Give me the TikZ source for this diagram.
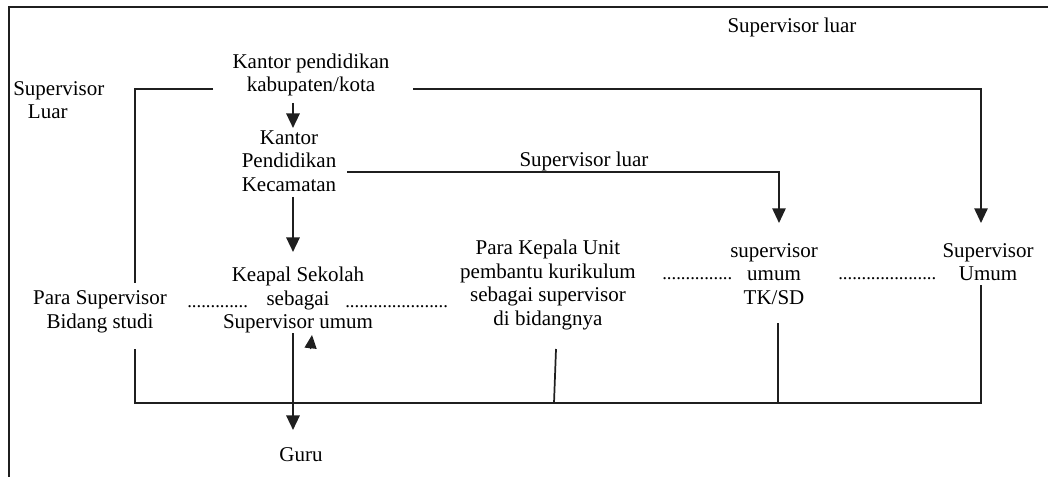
\documentclass[tikz,border=0pt]{standalone}
\usepackage{fontspec}
\setmainfont{Liberation Serif}
\usetikzlibrary{arrows.meta,calc}
\tikzset{
  lbl/.style={inner sep=0pt, align=center, text=black, font=\fontsize{15.75pt}{17.6pt}\selectfont},
  dotrow/.style={inner sep=0pt, anchor=base west, text=black, font=\fontsize{14pt}{14pt}\selectfont},
  conn/.style={draw=black!88, line width=1.3pt},
  arr/.style={draw=black!88, line width=1.7pt, -{Triangle[width=10pt,length=11pt]}},
}
\begin{document}
\begin{tikzpicture}[x=0.75pt,y=-0.75pt]
\useasboundingbox (0,0) rectangle (1048,477);
% frame
\coordinate (fBL) at (9,477);
\coordinate (fTL) at (9,7);
\coordinate (fTR) at (1048,7);
\draw[conn] (fBL) -- (fTL) -- (fTR);

% texts
\node[lbl] (supTop) at (792,27) {Supervisor luar};
\node[lbl, align=left, anchor=west] (supLuarL) at (13,100) {Supervisor\\\hspace*{11pt}Luar};
\node[lbl] (kab) at (311,75) {Kantor pendidikan\\kabupaten/kota};
\node[lbl] (kec) at (289,161) {Kantor\\Pendidikan\\Kecamatan};
\node[lbl] (supMid) at (584,161) {Supervisor luar};
\node[lbl] (ks) at (298,300) {Keapal Sekolah\\sebagai\\Supervisor umum};
\node[lbl] (psb) at (100,312) {Para Supervisor\\Bidang studi};
\node[lbl] (pku) at (548,285) {Para Kepala Unit\\pembantu kurikulum\\sebagai supervisor\\di bidangnya};
\node[lbl] (tk) at (774,274) {supervisor\\umum\hspace*{18pt}\\TK/SD};
\node[lbl] (supUm) at (988,262) {Supervisor\\Umum};
\node[lbl] (guru) at (301,455) {Guru};

\node[dotrow] (d1) at (187,307) {.............};
\node[dotrow] (d2) at (345,307) {......................};
\node[dotrow] (d3) at (662,279) {...............};
\node[dotrow] (d4) at (838,279) {.....................};

% connector end points
\coordinate (kL) at (213,89);
\coordinate (psbTop) at (135,283);
\coordinate (psbBot) at (135,349);
\coordinate (bR) at (981,403);
\coordinate (umBot) at (981,285);
\coordinate (pkuTop) at (556,349);
\coordinate (pkuBot) at (554,403);
\coordinate (tkTop) at (778,323);
\coordinate (tkBot) at (778,403);
\coordinate (kR) at (413,89);
\coordinate (umTip) at (981,223);
\coordinate (kecR) at (347,172);
\coordinate (tkTip) at (779,223);
\coordinate (a1s) at (293,103);
\coordinate (a1e) at (293,128);
\coordinate (a2s) at (293,197);
\coordinate (a2e) at (293,252);
\coordinate (a3s) at (293,333);
\coordinate (a3e) at (293,430);
\coordinate (a4s) at (310.5,349);
\coordinate (a4e) at (312,335);

% connectors
\draw[conn] (kL) -| (psbTop);
\draw[conn] (psbBot) |- (bR) -- (umBot);
\draw[conn] (pkuTop) -- (pkuBot);
\draw[conn] (tkTop) -- (tkBot);
\draw[conn, -{Triangle[width=10pt,length=11pt]}] (kR) -| (umTip);
\draw[conn, -{Triangle[width=10pt,length=11pt]}] (kecR) -| (tkTip);
\draw[arr] (a1s) -- (a1e);
\draw[arr] (a2s) -- (a2e);
\draw[arr] (a3s) -- (a3e);
\draw[draw=black!88, line width=1pt, -{Triangle[width=9pt,length=10pt]}] (a4s) -- (a4e);
\end{tikzpicture}
\end{document}
